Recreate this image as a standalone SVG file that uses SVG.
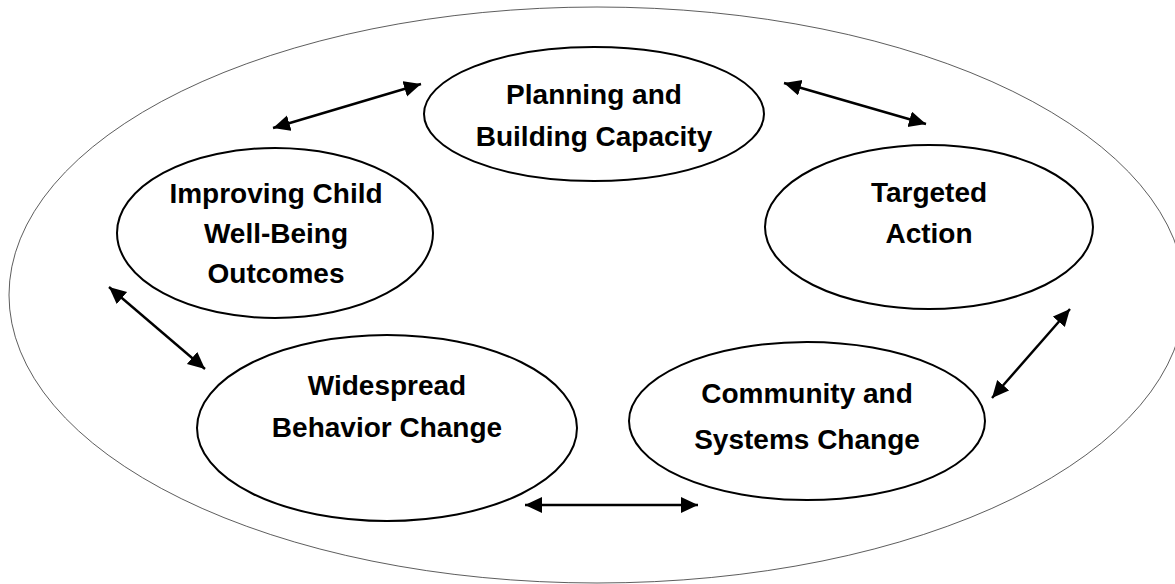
<svg xmlns="http://www.w3.org/2000/svg" width="1175" height="584" viewBox="0 0 1175 584">
<style>
.node{fill:#fff;stroke:#000;stroke-width:2}
.lbl{font-family:"Comic Sans MS","Liberation Sans",sans-serif;font-weight:bold;font-size:28px;fill:#000;text-anchor:middle}
.conn{stroke:#000;stroke-width:2.4;fill:none;marker-start:url(#ah);marker-end:url(#ah)}
</style>
<defs>
<marker id="ah" markerUnits="userSpaceOnUse" markerWidth="18" markerHeight="18" viewBox="0 0 18 18" refX="17" refY="8" orient="auto-start-reverse">
<path d="M0,0 L17,8 L0,16 z" fill="#000"/>
</marker>
</defs>
<rect width="1175" height="584" fill="#fff"/>
<g id="outer">
<ellipse cx="597" cy="295" rx="588" ry="288" fill="none" stroke="#333" stroke-width="0.8"/>
</g>
<g id="planning">
<ellipse class="node" cx="594" cy="114" rx="170" ry="67"/>
<text class="lbl" x="594" y="104">Planning and</text>
<text class="lbl" x="594" y="146">Building Capacity</text>
</g>
<g id="improving">
<ellipse class="node" cx="275" cy="233" rx="158" ry="85"/>
<text class="lbl" x="276" y="203">Improving Child</text>
<text class="lbl" x="276" y="243">Well-Being</text>
<text class="lbl" x="276" y="283">Outcomes</text>
</g>
<g id="targeted">
<ellipse class="node" cx="929" cy="227" rx="164" ry="82"/>
<text class="lbl" x="929" y="202">Targeted</text>
<text class="lbl" x="929" y="243">Action</text>
</g>
<g id="widespread">
<ellipse class="node" cx="387" cy="428" rx="190" ry="93"/>
<text class="lbl" x="387" y="395">Widespread</text>
<text class="lbl" x="387" y="437">Behavior Change</text>
</g>
<g id="community">
<ellipse class="node" cx="807" cy="421" rx="178" ry="79"/>
<text class="lbl" x="807" y="403">Community and</text>
<text class="lbl" x="807" y="449">Systems Change</text>
</g>
<g id="connectors">
<line class="conn" x1="273" y1="128" x2="421" y2="84"/>
<line class="conn" x1="784" y1="83" x2="926" y2="124"/>
<line class="conn" x1="109" y1="287" x2="205" y2="369"/>
<line class="conn" x1="525" y1="505" x2="698" y2="505"/>
<line class="conn" x1="1070" y1="309" x2="992" y2="398"/>
</g>
</svg>
